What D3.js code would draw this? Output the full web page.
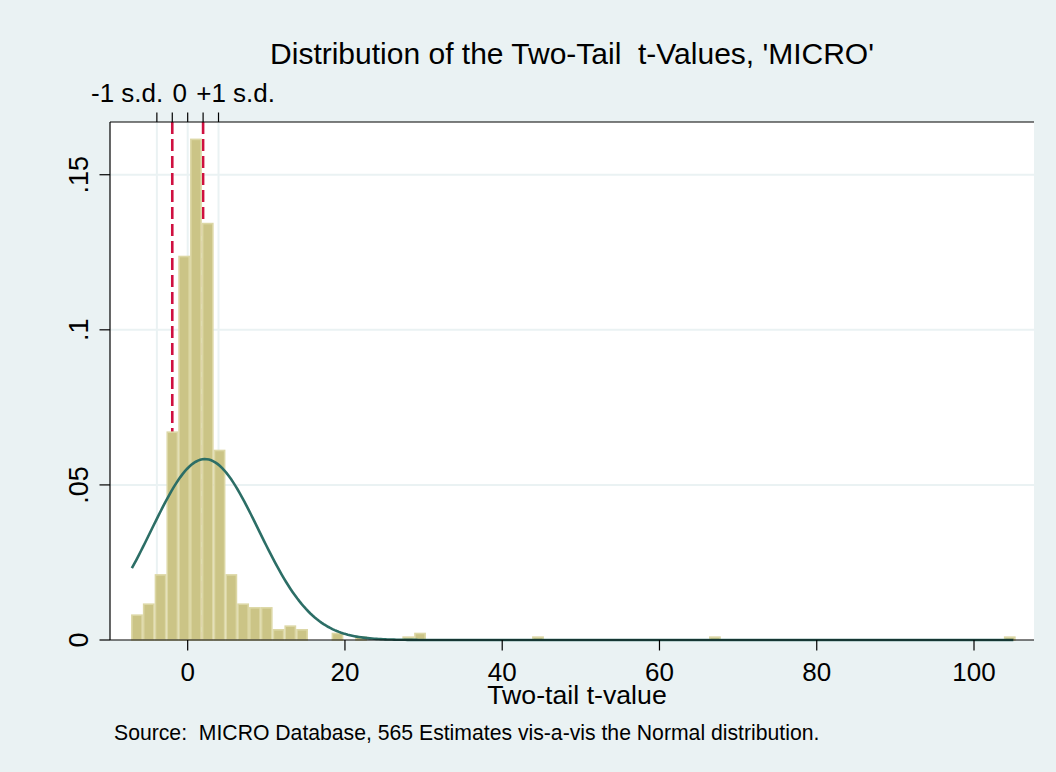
<!DOCTYPE html>
<html>
<head>
<meta charset="utf-8">
<script src="https://cdn.jsdelivr.net/npm/d3@7"></script>
<style>
  body { margin: 0; background: #eaf2f3; }
  svg { display: block; font-family: "Liberation Sans", Arial, sans-serif; }
</style>
</head>
<body>
<script>
// histogram: 75 bins of width 1.5 starting at -7.2, counts out of 565 estimates
var binStart = -7.2;
var binWidth = 1.5;
var nObs = 565;
var binCounts = [7, 10, 18, 57, 105, 137, 114, 52, 18, 10, 9, 9, 3, 4, 3, 0, 0, 2, 0, 1,
    0, 0, 0, 1, 2, 0, 0, 0, 0, 0, 0, 0, 0, 0, 1, 0, 0, 0, 0, 0,
    0, 0, 0, 0, 0, 0, 0, 0, 0, 1, 0, 0, 0, 0, 0, 0, 0, 0, 0, 0,
    0, 0, 0, 0, 0, 0, 0, 0, 0, 0, 0, 0, 0, 0, 1];

// normal overlay
var normMean = 2.2;
var normSd = 6.84;
var dataMin = -7.1;
var dataMax = 105;

var xTicks = [0, 20, 40, 60, 80, 100];
var yTicks = [0, 0.05, 0.1, 0.15];
var yTickLabels = ["0", ".05", ".1", ".15"];

// top axis: grey lines and red critical values
var topTicks = [-3.92, -1.96, 0, 1.96, 3.92];
var greyLines = [-3.92, 0, 3.92];
var redLines = [-1.96, 1.96];
var topLabels = [
    {text: "-1 s.d.", at: -7.7},
    {text: "0", at: -1.0},
    {text: "+1 s.d.", at: 6.1}
];

var W = 1056, H = 772;
var plotLeft = 110, plotRight = 1034, plotTop = 122, plotBottom = 640;

var svg = d3.select('body').append('svg')
    .attr('width', W)
    .attr('height', H);

svg.append('rect')
    .attr('width', W).attr('height', H)
    .style('fill', '#eaf2f3');

var x = d3.scaleLinear().domain([-9.88, 107.63]).range([plotLeft, plotRight]);
var y = d3.scaleLinear().domain([0, 0.167]).range([plotBottom, plotTop]);

// plot region
svg.append('rect')
    .attr('x', plotLeft).attr('y', plotTop)
    .attr('width', plotRight - plotLeft).attr('height', plotBottom - plotTop)
    .style('fill', '#fff');

// grid
svg.append('g').selectAll('line')
    .data(yTicks.slice(1))
    .enter().append('line')
    .attr('x1', plotLeft).attr('x2', plotRight)
    .attr('y1', function(d) { return y(d); })
    .attr('y2', function(d) { return y(d); })
    .style('stroke', '#eaf2f3').style('stroke-width', 2);

svg.append('g').selectAll('line')
    .data(greyLines)
    .enter().append('line')
    .attr('x1', function(d) { return x(d); })
    .attr('x2', function(d) { return x(d); })
    .attr('y1', plotTop).attr('y2', plotBottom)
    .style('stroke', '#eaf2f3').style('stroke-width', 2);

svg.append('g').selectAll('line')
    .data(redLines)
    .enter().append('line')
    .attr('x1', function(d) { return x(d); })
    .attr('x2', function(d) { return x(d); })
    .attr('y1', plotTop).attr('y2', plotBottom)
    .style('stroke', '#cf1040').style('stroke-width', 2.6)
    .style('stroke-dasharray', '12,5');

// bars
var bins = binCounts.map(function(c, i) {
    return {x0: binStart + i * binWidth, x1: binStart + (i + 1) * binWidth,
        density: c / (nObs * binWidth)};
}).filter(function(b) { return b.density > 0; });

svg.append('g').selectAll('rect')
    .data(bins)
    .enter().append('rect')
    .attr('x', function(d) { return x(d.x0) + 0.8; })
    .attr('width', function(d) { return x(d.x1) - x(d.x0) - 1.6; })
    .attr('y', function(d) { return y(d.density) + 0.8; })
    .attr('height', function(d) { return y(0) - y(d.density) - 0.8; })
    .style('fill', '#cbc486')
    .style('stroke', '#dcd7a5')
    .style('stroke-width', 1.6);

// normal density
var curvePts = d3.range(0, 401).map(function(i) {
    var t = dataMin + (dataMax - dataMin) * i / 400;
    var z = (t - normMean) / normSd;
    return [t, Math.exp(-0.5 * z * z) / (normSd * Math.sqrt(2 * Math.PI))];
});

var line = d3.line()
    .x(function(d) { return x(d[0]); })
    .y(function(d) { return y(d[1]); });

svg.append('path')
    .attr('d', line(curvePts))
    .style('fill', 'none')
    .style('stroke', '#2c6e66')
    .style('stroke-width', 2.6);

// axes lines
svg.append('line').attr('x1', plotLeft).attr('x2', plotLeft).attr('y1', plotTop).attr('y2', plotBottom)
    .style('stroke', '#000').style('stroke-width', 1.2);
svg.append('line').attr('x1', plotLeft).attr('x2', plotRight).attr('y1', plotBottom).attr('y2', plotBottom)
    .style('stroke', '#000').style('stroke-width', 1.2);
svg.append('line').attr('x1', plotLeft).attr('x2', plotRight).attr('y1', plotTop).attr('y2', plotTop)
    .style('stroke', '#000').style('stroke-width', 1.2);

// y ticks + labels
var yAxis = svg.append('g');
yAxis.selectAll('line')
    .data(yTicks)
    .enter().append('line')
    .attr('x1', plotLeft - 10.5).attr('x2', plotLeft)
    .attr('y1', function(d) { return y(d); })
    .attr('y2', function(d) { return y(d); })
    .style('stroke', '#000').style('stroke-width', 1.2);
yAxis.selectAll('text')
    .data(yTicks)
    .enter().append('text')
    .attr('transform', function(d) { return 'translate(88,' + y(d) + ') rotate(-90)'; })
    .attr('text-anchor', 'middle')
    .style('font-size', '27px')
    .text(function(d, i) { return yTickLabels[i]; });

// x ticks + labels
var xAxis = svg.append('g');
xAxis.selectAll('line')
    .data(xTicks)
    .enter().append('line')
    .attr('x1', function(d) { return x(d); })
    .attr('x2', function(d) { return x(d); })
    .attr('y1', plotBottom).attr('y2', plotBottom + 10.5)
    .style('stroke', '#000').style('stroke-width', 1.2);
xAxis.selectAll('text')
    .data(xTicks)
    .enter().append('text')
    .attr('x', function(d) { return x(d); })
    .attr('y', 681)
    .attr('text-anchor', 'middle')
    .style('font-size', '26px')
    .text(function(d) { return d; });

// top ticks + labels
var topAxis = svg.append('g');
topAxis.selectAll('line')
    .data(topTicks)
    .enter().append('line')
    .attr('x1', function(d) { return x(d); })
    .attr('x2', function(d) { return x(d); })
    .attr('y1', plotTop - 9.5).attr('y2', plotTop)
    .style('stroke', '#000').style('stroke-width', 1.2);
topAxis.selectAll('text')
    .data(topLabels)
    .enter().append('text')
    .attr('x', function(d) { return x(d.at); })
    .attr('y', 101.5)
    .attr('text-anchor', 'middle')
    .style('font-size', '26px')
    .text(function(d) { return d.text; });

// titles
svg.append('text')
    .attr('x', (plotLeft + plotRight) / 2).attr('y', 64)
    .attr('text-anchor', 'middle')
    .style('font-size', '30px')
    .style('white-space', 'pre')
    .text("Distribution of the Two-Tail  t-Values, 'MICRO'");

svg.append('text')
    .attr('x', 577).attr('y', 704)
    .attr('text-anchor', 'middle')
    .style('font-size', '26.7px')
    .text("Two-tail t-value");

svg.append('text')
    .attr('x', 114).attr('y', 740)
    .style('font-size', '21.2px')
    .style('white-space', 'pre')
    .text("Source:  MICRO Database, 565 Estimates vis-a-vis the Normal distribution.");
</script>
</body>
</html>
